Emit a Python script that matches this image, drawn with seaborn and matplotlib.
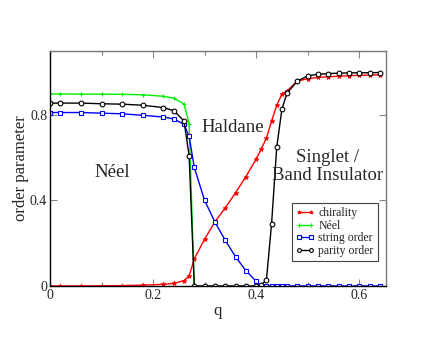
import matplotlib
matplotlib.use("Agg")
import matplotlib.pyplot as plt
import seaborn as sns
from matplotlib.ticker import MultipleLocator, FixedLocator, FixedFormatter

q_neel = [0, 0.02, 0.06, 0.1, 0.14, 0.18, 0.22, 0.24, 0.26, 0.27, 0.28]
neel = [0.898, 0.898, 0.897, 0.897, 0.896, 0.894, 0.887, 0.878, 0.851, 0.758, 0.0]

q = [0, 0.02, 0.06, 0.1, 0.14, 0.18, 0.22, 0.24, 0.26, 0.27, 0.28, 0.3, 0.32,
     0.34, 0.36, 0.38, 0.4, 0.41, 0.42, 0.43, 0.44, 0.45, 0.46, 0.48, 0.5,
     0.52, 0.54, 0.56, 0.58, 0.6, 0.62, 0.64]
chirality = [0.0, 0.0, 0.0, 0.001, 0.002, 0.004, 0.008, 0.012, 0.025, 0.047,
             0.127, 0.219, 0.300, 0.365, 0.436, 0.511, 0.593, 0.640, 0.692,
             0.771, 0.845, 0.897, 0.912, 0.958, 0.969, 0.975, 0.978, 0.981,
             0.983, 0.985, 0.986, 0.987]
string_order = [0.811, 0.811, 0.811, 0.808, 0.805, 0.798, 0.790, 0.781, 0.756,
                0.699, 0.554, 0.400, 0.299, 0.214, 0.137, 0.072, 0.022, 0.0,
                0.0, 0.0, 0.0, 0.0, 0.0, 0.0, 0.0, 0.0, 0.0, 0.0, 0.0, 0.0,
                0.0, 0.0]
parity_order = [0.855, 0.855, 0.855, 0.852, 0.850, 0.845, 0.834, 0.820, 0.772,
                0.609, 0.0, 0.0, 0.0, 0.0, 0.0, 0.0, 0.0, 0.005, 0.029, 0.292,
                0.649, 0.827, 0.902, 0.958, 0.982, 0.990, 0.993, 0.995, 0.996,
                0.997, 0.997, 0.998]

labels = ["chirality", "Néel", "string order", "parity order"]
xtick_vals = [0, 0.2, 0.4, 0.6]
xtick_labels = ["0", "0.2", "0.4", "0.6"]
ytick_vals = [0, 0.4, 0.8]
ytick_labels = ["0", "0.4", "0.8"]

sns.set_style("ticks")
plt.rcParams['font.family'] = ['Liberation Serif', 'DejaVu Serif']

fig = plt.figure(figsize=(4.36, 3.37), dpi=100)
ax = fig.add_axes([50/436, 1-286/337, 336/436, (286-50.7)/337])

lw = 1.0
sns.lineplot(x=q, y=chirality, ax=ax, color="#ff0000", marker="*", markersize=3.5,
             markeredgecolor="#ff0000", markerfacecolor="#ff0000", markeredgewidth=0.6,
             linewidth=lw, linestyle="-", label=labels[0], sort=False)
sns.lineplot(x=q_neel, y=neel, ax=ax, color="#00ee00", marker="+", markersize=3.5,
             markeredgecolor="#00ee00", markeredgewidth=0.8,
             linewidth=lw, linestyle="-", label=labels[1], sort=False)
sns.lineplot(x=q, y=string_order, ax=ax, color="#0000ff", marker="s", markersize=3.2,
             markerfacecolor="white", markeredgecolor="#0000ff", markeredgewidth=0.8,
             linewidth=lw, linestyle="-", label=labels[2], sort=False)
sns.lineplot(x=q, y=parity_order, ax=ax, color="black", marker="o", markersize=3.4,
             markerfacecolor="white", markeredgecolor="black", markeredgewidth=0.8,
             linewidth=lw, linestyle="-", label=labels[3], sort=False)

ax.set_xlim(0, 0.652)
ax.set_ylim(0, 1.1)
ax.xaxis.set_major_locator(FixedLocator(xtick_vals))
ax.xaxis.set_major_formatter(FixedFormatter(xtick_labels))
ax.xaxis.set_minor_locator(MultipleLocator(0.1))
ax.yaxis.set_major_locator(FixedLocator(ytick_vals))
ax.yaxis.set_major_formatter(FixedFormatter(ytick_labels))
ax.tick_params(axis="both", which="both", direction="in", top=True, right=True,
               color="#888888", labelsize=10, pad=2)
ax.tick_params(which="major", length=5, width=0.8)
ax.tick_params(which="minor", length=3, width=0.8)
for s in ["top", "right"]:
    ax.spines[s].set_color("#777777")
for s in ["left", "bottom"]:
    ax.spines[s].set_color("black")
for s in ax.spines.values():
    s.set_linewidth(1.0)

ax.set_xlabel("q", fontsize=12, labelpad=1)
ax.set_ylabel("order parameter", fontsize=12, labelpad=1)

ax.text(0.120, 0.529, "Néel", fontsize=13.5, ha="center", va="center")
ax.text(0.355, 0.739, "Haldane", fontsize=13.5, ha="center", va="center")
ax.text(0.539, 0.599, "Singlet /", fontsize=13.5, ha="center", va="center")
ax.text(0.539, 0.515, "Band Insulator", fontsize=13.5, ha="center", va="center")

leg = ax.legend(loc="upper left", bbox_to_anchor=(0.719, 0.353), fontsize=8.5,
                frameon=True, fancybox=False, edgecolor="#444444", framealpha=1,
                handlelength=1.6, handletextpad=0.3, labelspacing=0.05,
                borderpad=0.35, borderaxespad=0, numpoints=2, markerscale=0.8)
leg.get_frame().set_linewidth(0.8)

fig.savefig("out.png", dpi=100)
